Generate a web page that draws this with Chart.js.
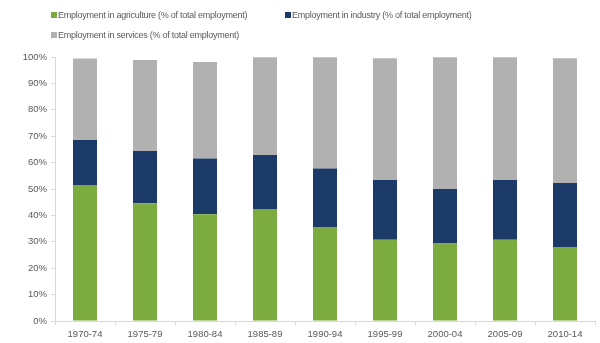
<!DOCTYPE html>
<html>
<head>
<meta charset="utf-8">
<script src="https://cdn.jsdelivr.net/npm/chart.js@4/dist/chart.umd.min.js"></script>
<style>
  html, body { margin: 0; padding: 0; background: #fff; }
  #wrap { position: relative; width: 600px; height: 343px; }
  #legend { position: absolute; left: 51px; top: 8px; width: 540px;
            font: 9px 'Liberation Sans', sans-serif; letter-spacing: -0.25px; color: #595959; }
  .item { position: absolute; white-space: nowrap; line-height: 14px; }
  .item span { display: inline-block; width: 6px; height: 6px; margin-right: 1px; vertical-align: 0px; }
</style>
</head>
<body>
<div id="wrap">
  <canvas id="chart" width="600" height="343"></canvas>
  <div id="legend"></div>
</div>
<script>
const periods = ['1970-74', '1975-79', '1980-84', '1985-89', '1990-94', '1995-99', '2000-04', '2005-09', '2010-14'];
const agriculture = [51.5, 44.6, 40.4, 42.4, 35.6, 30.8, 29.4, 30.8, 28.0];
const industry = [17.1, 19.8, 21.2, 20.5, 22.2, 22.6, 20.6, 22.6, 24.3];
const services = [30.8, 34.5, 36.5, 37.0, 42.1, 46.1, 49.9, 46.5, 47.2];
const yTicks = [0, 10, 20, 30, 40, 50, 60, 70, 80, 90, 100];

const font = { family: "'Liberation Sans', sans-serif", size: 9.5 };
const axisColor = '#d9d9d9';

const chart = new Chart(document.getElementById('chart'), {
    type: 'bar',
    data: {
        labels: periods,
        datasets: [
            { label: 'Employment in agriculture (% of total employment)', data: agriculture, backgroundColor: '#7cab3f' },
            { label: 'Employment in industry (% of total employment)', data: industry, backgroundColor: '#1b3a68' },
            { label: 'Employment in services (% of total employment)', data: services, backgroundColor: '#b1b1b1' }
        ]
    },
    options: {
        responsive: false,
        animation: false,
        layout: { padding: { left: 0, right: 5, top: 57, bottom: 0 } },
        datasets: { bar: { barPercentage: 0.4, categoryPercentage: 1.0 } },
        plugins: { legend: { display: false }, tooltip: { enabled: false } },
        scales: {
            x: {
                stacked: true,
                grid: { display: true, drawOnChartArea: false, drawTicks: true, tickLength: 4, color: axisColor },
                border: { color: axisColor },
                ticks: { font: font, color: '#595959', padding: 4, maxRotation: 0 },
                afterFit: s => { s.height = 22; }
            },
            y: {
                stacked: true,
                min: 0, max: 100,
                afterBuildTicks: s => { s.ticks = yTicks.map(v => ({ value: v })); },
                grid: { display: true, drawOnChartArea: false, drawTicks: true, tickLength: 4, color: axisColor },
                border: { color: axisColor },
                ticks: { font: font, color: '#595959', padding: 4, callback: v => v + '%' },
                afterFit: s => { s.width = 55; }
            }
        }
    }
});

// legend in two columns like the original
const legend = document.getElementById('legend');
chart.data.datasets.forEach((ds, i) => {
    const el = document.createElement('div');
    el.className = 'item';
    el.style.left = (i % 2) * 234 + 'px';
    el.style.top = Math.floor(i / 2) * 20 + 'px';
    el.innerHTML = '<span style="background:' + ds.backgroundColor + '"></span>' + ds.label;
    legend.appendChild(el);
});
</script>
</body>
</html>
